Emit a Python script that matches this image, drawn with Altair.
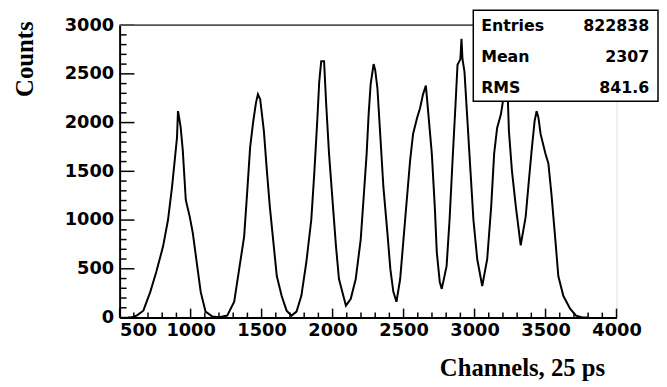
import altair as alt
import pandas as pd

# Histogram outline (channel, counts)
channels = [560, 584, 620, 667, 716, 758, 806, 841, 869, 890, 904, 911, 918, 930, 945, 966, 994,
            1015, 1043, 1071, 1105, 1154, 1203, 1258, 1307, 1342, 1377, 1398, 1419, 1440, 1460,
            1474, 1490, 1516, 1537, 1558, 1586, 1607, 1641, 1676, 1711, 1746, 1780, 1815, 1850,
            1871, 1892, 1906, 1920, 1940, 1955, 1975, 2003, 2024, 2045, 2094, 2128, 2163, 2198,
            2219, 2240, 2254, 2268, 2289, 2300, 2316, 2337, 2358, 2386, 2407, 2428, 2450, 2476,
            2511, 2546, 2567, 2595, 2616, 2637, 2657, 2671, 2699, 2720, 2734, 2755, 2769, 2803,
            2824, 2845, 2866, 2880, 2900, 2908, 2915, 2929, 2950, 2971, 2992, 3019, 3054, 3089,
            3117, 3138, 3159, 3186, 3200, 3215, 3225, 3235, 3242, 3263, 3291, 3325, 3360, 3381,
            3402, 3423, 3437, 3450, 3465, 3499, 3520, 3541, 3569, 3590, 3625, 3673, 3715, 3760,
            3800]
counts = [0, 0, 20, 70, 263, 466, 730, 1003, 1337, 1641, 1844, 2118, 2060, 1950, 1712, 1206, 1033,
          871, 567, 263, 61, 10, 3, 20, 162, 496, 831, 1277, 1743, 2000, 2200,
          2290, 2240, 1915, 1510, 1135, 730, 426, 223, 71, 20, 61, 223, 567, 1003,
          1479, 2016, 2421, 2630, 2630, 2188, 1682, 1135, 730, 395, 122, 192, 395, 800,
          1236, 1682, 2087, 2391, 2600, 2540, 2350, 1844, 1337, 871, 496, 263, 162, 395,
          1003, 1611, 1884, 2047, 2148, 2290, 2380, 2148, 1682, 1135, 669, 365, 294, 527,
          1003, 1611, 2188, 2594, 2650, 2860, 2650, 2523, 2016, 1510, 1003, 598, 324, 598,
          1135, 1682, 1945, 2087, 2219, 2420, 2400, 2219, 1915, 1510, 1135, 740, 1033, 1378,
          1712, 2016, 2118, 2050, 1884, 1682, 1580, 1277, 800, 426, 223, 91, 20, 0,
          0]

x_major = [500, 1000, 1500, 2000, 2500, 3000, 3500, 4000]
y_major = [0, 500, 1000, 1500, 2000, 2500, 3000]
x_minor = [v for v in range(600, 4000, 100) if v % 500 != 0]
y_minor = [v for v in range(100, 3000, 100) if v % 500 != 0]

stat_names = ["Entries", "Mean", "RMS"]
stat_values = ["822838", "2307", "841.6"]

W, H = 503, 296

df = pd.DataFrame({"ch": channels, "n": counts})

xs = alt.Scale(domain=[500, 4000], nice=False, zero=False)
ys = alt.Scale(domain=[0, 3000], nice=False)

line = alt.Chart(df).mark_line(color="black", strokeWidth=2).encode(
    x=alt.X("ch:Q", scale=xs, axis=alt.Axis(
        values=x_major, format="d", ticks=False, tickSize=0, grid=False, domainColor="black",
        domainWidth=2, labelFont="DejaVu Sans", labelFontWeight="bold", labelFontSize=18,
        labelColor="black", labelPadding=4, labelFlush=False, labelOverlap=False,
        labelAlign={"condition": {"test": "datum.value == 500", "value": "left"}, "value": "center"},
        title="Channels, 25 ps", titleFont="Liberation Serif", titleFontWeight="bold",
        titleFontSize=25, titleColor="black", titleAnchor="end", titleAlign="right",
        titleX=491, titleY=59, titleBaseline="alphabetic")),
    y=alt.Y("n:Q", scale=ys, axis=alt.Axis(
        values=y_major, format="d", ticks=False, tickSize=0, grid=False, domainColor="black",
        domainWidth=2, labelFont="DejaVu Sans", labelFontWeight="bold", labelFontSize=18,
        labelColor="black", labelPadding=6, labelFlush=False, labelOverlap=False,
        title="Counts", titleFont="Liberation Serif", titleFontWeight="bold",
        titleFontSize=25, titleColor="black", titleAngle=270, titleAlign="center",
        titleX=-88, titleY=34, titleBaseline="alphabetic")),
)

def xticks(vals, length):
    return alt.Chart(pd.DataFrame({"v": vals})).mark_rule(color="black", strokeWidth=1.5).encode(
        x=alt.X("v:Q", scale=xs), y=alt.value(H), y2=alt.value(H - length))

def yticks(vals, length):
    return alt.Chart(pd.DataFrame({"v": vals})).mark_rule(color="black", strokeWidth=1.5).encode(
        y=alt.Y("v:Q", scale=ys), x=alt.value(0), x2=alt.value(length))

top_line = alt.Chart(pd.DataFrame({"a": [0]})).mark_rule(color="#555", strokeWidth=2).encode(
    x=alt.value(0), x2=alt.value(W), y=alt.value(0))

box = alt.Chart(pd.DataFrame({"a": [0]})).mark_rect(
    fill="white", stroke="black", strokeWidth=1.5).encode(
    x=alt.value(358), x2=alt.value(545), y=alt.value(-15), y2=alt.value(77))

texts = []
for i, (nm, val) in enumerate(zip(stat_names, stat_values)):
    ty = 1 + i * 31.5
    texts.append(alt.Chart(pd.DataFrame({"t": [nm]})).mark_text(
        align="left", baseline="middle", font="DejaVu Sans", fontWeight="bold",
        fontSize=16, color="black").encode(text="t:N", x=alt.value(366), y=alt.value(ty)))
    texts.append(alt.Chart(pd.DataFrame({"t": [val]})).mark_text(
        align="right", baseline="middle", font="DejaVu Sans", fontWeight="bold",
        fontSize=16, color="black").encode(text="t:N", x=alt.value(536), y=alt.value(ty)))

chart = alt.layer(
    xticks(x_minor, 5), xticks(x_major, 9), yticks(y_minor, 7), yticks(y_major, 15),
    line, top_line, box, *texts
).properties(
    width=W, height=H,
    autosize=alt.AutoSizeParams(type="none"),
    padding={"left": 113, "top": 15, "right": 43, "bottom": 68},
).configure_view(stroke="black", strokeWidth=1.5).configure(background="white")

chart.save("out.html", embed_options={"renderer": "svg", "actions": False})
